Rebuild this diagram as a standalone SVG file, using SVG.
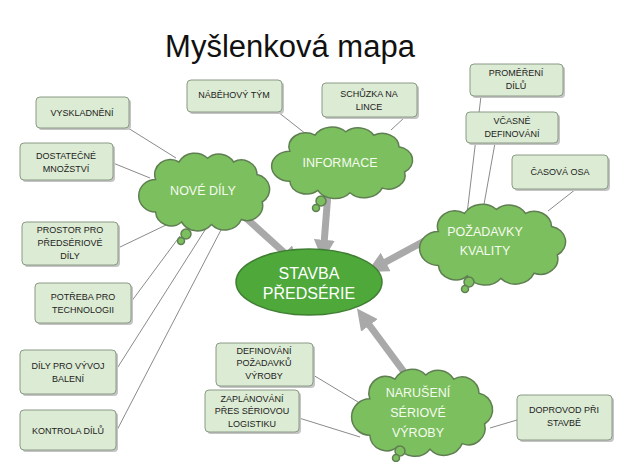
<svg xmlns="http://www.w3.org/2000/svg" xmlns:xlink="http://www.w3.org/1999/xlink" width="628" height="462" viewBox="0 0 628 462">
<style>
.box{fill:#dcebd3;stroke:#8a9a86;stroke-width:1}
.sh{fill:#c4c4c4}
.bt{font-family:"Liberation Sans",Arial,sans-serif;font-size:9px;fill:#222;text-anchor:middle}
.ct{font-family:"Liberation Sans",Arial,sans-serif;font-size:12.5px;fill:#f4fbef;text-anchor:middle}
.cl{fill:#7cbf5e;stroke:#5f7f52;stroke-width:1.5}
.thin{stroke:#8a8a8a;stroke-width:1;fill:none}
.thick{stroke:#a9a9a9;stroke-width:7;fill:none;marker-end:url(#ah)}
</style>
<defs>
<path id="cloud" vector-effect="non-scaling-stroke" d="M 12 22 A 12 12 0 0 1 30 8 A 14 14 0 0 1 52 5 A 13 13 0 0 1 72 8 A 12 12 0 0 1 90 18 A 12 12 0 0 1 94 40 A 12 12 0 0 1 78 54 A 14 14 0 0 1 55 58 A 14 14 0 0 1 32 56 A 12 12 0 0 1 12 48 A 13 13 0 0 1 12 22 Z"/>
<marker id="ah" viewBox="0 0 10 10" refX="2" refY="5" markerWidth="3" markerHeight="3" orient="auto" markerUnits="strokeWidth"><path d="M0 0L10 5L0 10Z" fill="#a9a9a9"/></marker>
</defs>
<rect width="628" height="462" fill="#fff"/>
<text x="290" y="57" font-family="Liberation Sans,Arial,sans-serif" font-size="31" fill="#111" text-anchor="middle">Myšlenková mapa</text>

<g id="connectors">
<line class="thin" x1="128" y1="128" x2="176" y2="158"/>
<line class="thin" x1="113" y1="163" x2="150" y2="178"/>
<line class="thin" x1="118" y1="248" x2="166" y2="225"/>
<line class="thin" x1="131" y1="302" x2="180" y2="236"/>
<line class="thin" x1="116" y1="370" x2="205" y2="230"/>
<line class="thin" x1="116" y1="432" x2="222" y2="228"/>
<line class="thin" x1="278" y1="112" x2="306" y2="134"/>
<line class="thin" x1="405" y1="117" x2="391" y2="130"/>
<line class="thin" x1="481" y1="96" x2="467" y2="214"/>
<line class="thin" x1="495" y1="143" x2="483" y2="210"/>
<line class="thin" x1="576" y1="189" x2="548" y2="211"/>
<line class="thin" x1="313" y1="375" x2="358" y2="402"/>
<line class="thin" x1="299" y1="418" x2="360" y2="437"/>
<line class="thin" x1="517" y1="420" x2="490" y2="428"/>
<line class="thick" x1="246" y1="218" x2="288" y2="256"/>
<line class="thick" x1="328" y1="193" x2="324" y2="244"/>
<line class="thick" x1="430" y1="238" x2="382" y2="264"/>
<line class="thick" x1="410" y1="380" x2="367" y2="322"/>
</g>

<g id="n-vyskladneni"><rect class="sh" x="38" y="99" width="93" height="31" rx="4"/><rect class="box" x="36" y="97" width="93" height="31" rx="4"/><text class="bt" x="82" y="116">VYSKLADNĚNÍ</text></g>
<g id="n-dostatecne"><rect class="sh" x="22" y="145" width="93" height="37" rx="4"/><rect class="box" x="20" y="143" width="93" height="37" rx="4"/><text class="bt" x="66" y="159">DOSTATEČNÉ</text><text class="bt" x="66" y="172">MNOŽSTVÍ</text></g>
<g id="n-prostor"><rect class="sh" x="24" y="224" width="96" height="43" rx="4"/><rect class="box" x="22" y="222" width="96" height="43" rx="4"/><text class="bt" x="70" y="233">PROSTOR PRO</text><text class="bt" x="70" y="246">PŘEDSÉRIOVÉ</text><text class="bt" x="70" y="259">DÍLY</text></g>
<g id="n-potreba"><rect class="sh" x="37" y="285" width="96" height="40" rx="4"/><rect class="box" x="35" y="283" width="96" height="40" rx="4"/><text class="bt" x="83" y="300">POTŘEBA PRO</text><text class="bt" x="83" y="313">TECHNOLOGII</text></g>
<g id="n-vyvoj"><rect class="sh" x="22" y="352" width="96" height="44" rx="4"/><rect class="box" x="20" y="350" width="96" height="44" rx="4"/><text class="bt" x="68" y="369">DÍLY PRO VÝVOJ</text><text class="bt" x="68" y="382">BALENÍ</text></g>
<g id="n-kontrola"><rect class="sh" x="22" y="412" width="96" height="40" rx="4"/><rect class="box" x="20" y="410" width="96" height="40" rx="4"/><text class="bt" x="68" y="434">KONTROLA  DÍLŮ</text></g>
<g id="n-nabehovy"><rect class="sh" x="189" y="82" width="95" height="32" rx="4"/><rect class="box" x="187" y="80" width="95" height="32" rx="4"/><text class="bt" x="234" y="98">NÁBĚHOVÝ  TÝM</text></g>
<g id="n-schuzka"><rect class="sh" x="324" y="85" width="95" height="34" rx="4"/><rect class="box" x="322" y="83" width="95" height="34" rx="4"/><text class="bt" x="369" y="97">SCHŮZKA NA</text><text class="bt" x="369" y="110">LINCE</text></g>
<g id="n-promereni"><rect class="sh" x="472" y="66" width="93" height="32" rx="4"/><rect class="box" x="470" y="64" width="93" height="32" rx="4"/><text class="bt" x="516" y="76">PROMĚŘENÍ</text><text class="bt" x="516" y="89">DÍLŮ</text></g>
<g id="n-vcasne"><rect class="sh" x="468" y="114" width="92" height="31" rx="4"/><rect class="box" x="466" y="112" width="92" height="31" rx="4"/><text class="bt" x="512" y="124">VČASNÉ</text><text class="bt" x="512" y="137">DEFINOVÁNÍ</text></g>
<g id="n-casova"><rect class="sh" x="514" y="157" width="96" height="34" rx="4"/><rect class="box" x="512" y="155" width="96" height="34" rx="4"/><text class="bt" x="560" y="175">ČASOVÁ  OSA</text></g>
<g id="n-definovani"><rect class="sh" x="218" y="345" width="97" height="43" rx="4"/><rect class="box" x="216" y="343" width="97" height="43" rx="4"/><text class="bt" x="264" y="354">DEFINOVÁNÍ</text><text class="bt" x="264" y="366">POŽADAVKŮ</text><text class="bt" x="264" y="379">VÝROBY</text></g>
<g id="n-zaplanovani"><rect class="sh" x="207" y="392" width="94" height="42" rx="4"/><rect class="box" x="205" y="390" width="94" height="42" rx="4"/><text class="bt" x="252" y="402">ZAPLÁNOVÁNÍ</text><text class="bt" x="252" y="414">PŘES SÉRIOVOU</text><text class="bt" x="252" y="427">LOGISTIKU</text></g>
<g id="n-doprovod"><rect class="sh" x="519" y="397" width="95" height="45" rx="4"/><rect class="box" x="517" y="395" width="95" height="45" rx="4"/><text class="bt" x="564" y="413">DOPROVOD PŘI</text><text class="bt" x="564" y="426">STAVBĚ</text></g>

<g id="c-nove-dily"><use xlink:href="#cloud" class="cl" transform="translate(140,152) scale(1.3,1.25)"/><circle class="cl" cx="186" cy="234" r="5"/><circle class="cl" cx="181" cy="241" r="3.5"/><text class="ct" x="203" y="195">NOVÉ DÍLY</text></g>
<g id="c-informace"><use xlink:href="#cloud" class="cl" transform="translate(273,126) scale(1.4,1.15)"/><circle class="cl" cx="321" cy="201" r="5"/><circle class="cl" cx="316" cy="208" r="3.5"/><text class="ct" x="340" y="167">INFORMACE</text></g>
<g id="c-pozadavky"><use xlink:href="#cloud" class="cl" transform="translate(421,203) scale(1.45,1.3)"/><circle class="cl" cx="469" cy="282" r="5"/><circle class="cl" cx="465" cy="289" r="3.5"/><text class="ct" x="485" y="236">POŽADAVKY</text><text class="ct" x="485" y="255">KVALITY</text></g>
<g id="c-naruseni"><use xlink:href="#cloud" class="cl" transform="translate(353,368) scale(1.4,1.4)"/><circle class="cl" cx="400" cy="451" r="5"/><circle class="cl" cx="396" cy="458" r="3.5"/><text class="ct" x="418" y="397">NARUŠENÍ</text><text class="ct" x="418" y="417">SÉRIOVÉ</text><text class="ct" x="418" y="437">VÝROBY</text></g>

<g id="n-stavba"><ellipse cx="309" cy="282" rx="73" ry="33" fill="#4ea83a" stroke="#3f7e33" stroke-width="1.5"/><text x="309" y="279" font-family="Liberation Sans,Arial,sans-serif" font-size="16" fill="#fff" text-anchor="middle">STAVBA</text><text x="309" y="299" font-family="Liberation Sans,Arial,sans-serif" font-size="16" fill="#fff" text-anchor="middle">PŘEDSÉRIE</text></g>
</svg>
